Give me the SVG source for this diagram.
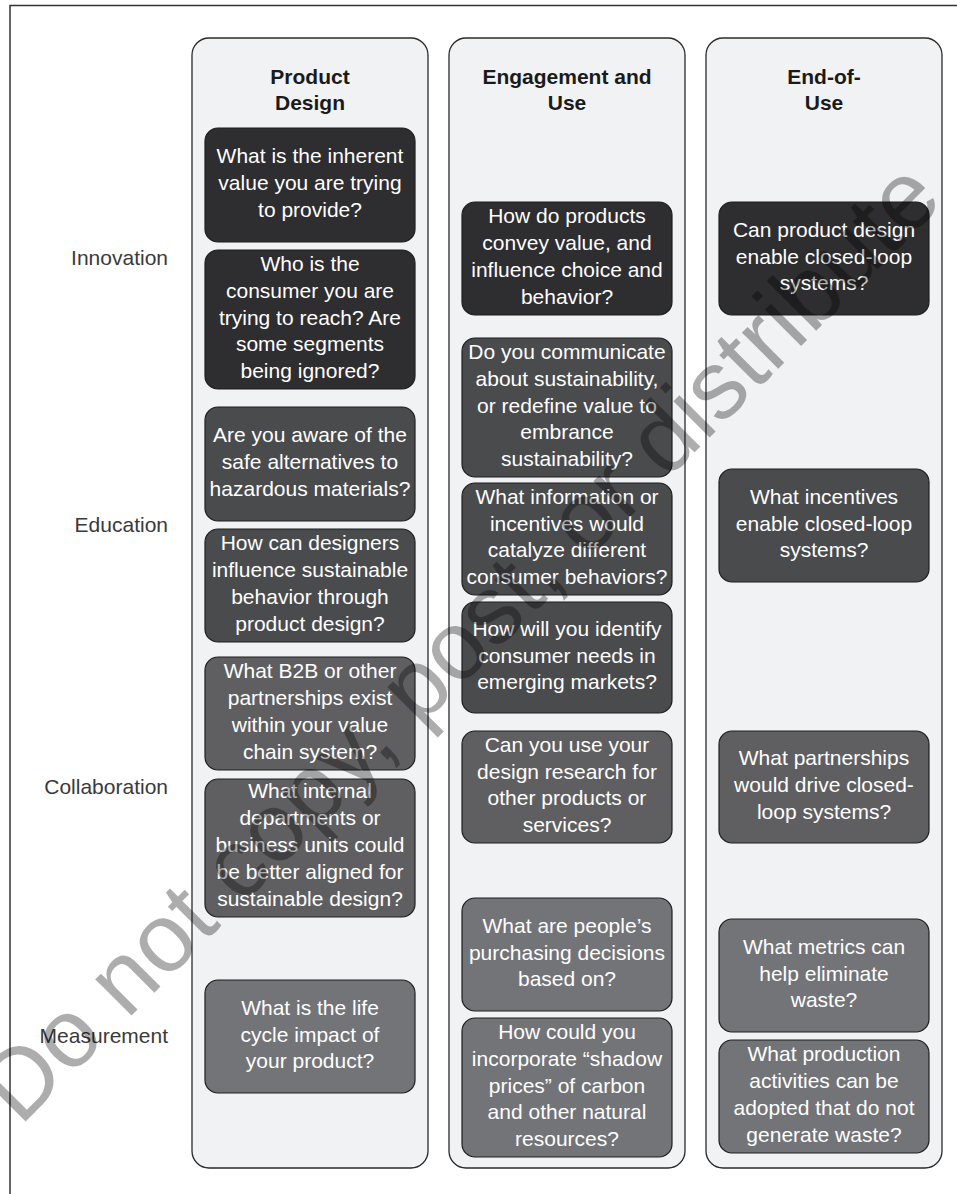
<svg xmlns="http://www.w3.org/2000/svg" width="957" height="1194" viewBox="0 0 957 1194">
<style>
text{font-family:"Liberation Sans",Arial,Helvetica,sans-serif;}
.col{fill:#f1f2f4;stroke:#2a2a2a;stroke-width:1.3;}
.box{stroke:#1e1e1e;stroke-width:1.2;}
.d1{fill:#2e2d2f;}
.d2{fill:#4a4b4d;}
.d3{fill:#5f5f61;}
.d4{fill:#737477;}
.hd{font-size:21px;font-weight:bold;fill:#1a1a1a;text-anchor:middle;}
.bt{font-size:21px;fill:#ffffff;text-anchor:middle;}
.rl{font-size:21px;fill:#3a3a3a;text-anchor:end;}
.wm{font-size:97px;fill:#000000;fill-opacity:0.32;}
</style>
<rect x="0" y="0" width="957" height="1194" fill="#ffffff"/>
<path d="M10,1194 V5.5 H957" fill="none" stroke="#333333" stroke-width="1.5"/>

<g id="row-labels">
<text class="rl" x="168" y="265">Innovation</text>
<text class="rl" x="168" y="532">Education</text>
<text class="rl" x="168" y="794">Collaboration</text>
<text class="rl" x="168" y="1043">Measurement</text>
</g>

<g id="col-product-design">
<rect class="col" x="192" y="38" width="236" height="1130" rx="17"/>
<text class="hd" x="310" y="84">Product<tspan x="310" y="110">Design</tspan></text>
</g>
<g id="col-engagement">
<rect class="col" x="449" y="38" width="236" height="1130" rx="17"/>
<text class="hd" x="567" y="84">Engagement and<tspan x="567" y="110">Use</tspan></text>
</g>
<g id="col-end-of-use">
<rect class="col" x="706" y="38" width="236" height="1130" rx="17"/>
<text class="hd" x="824" y="84">End-of-<tspan x="824" y="110">Use</tspan></text>
</g>

<g id="connectors"></g>

<g id="a1"><rect class="box d1" x="205" y="128" width="210" height="114" rx="13"/>
<text class="bt"><tspan x="310" y="163.2">What is the inherent</tspan><tspan x="310" y="190">value you are trying</tspan><tspan x="310" y="216.8">to provide?</tspan></text></g>
<g id="a2"><rect class="box d1" x="205" y="250" width="210" height="139" rx="13"/>
<text class="bt"><tspan x="310" y="270.9">Who is the</tspan><tspan x="310" y="297.7">consumer you are</tspan><tspan x="310" y="324.5">trying to reach? Are</tspan><tspan x="310" y="351.3">some segments</tspan><tspan x="310" y="378.1">being ignored?</tspan></text></g>
<g id="a3"><rect class="box d2" x="205" y="407" width="210" height="114" rx="13"/>
<text class="bt"><tspan x="310" y="442.2">Are you aware of the</tspan><tspan x="310" y="469">safe alternatives to</tspan><tspan x="310" y="495.8">hazardous materials?</tspan></text></g>
<g id="a4"><rect class="box d2" x="205" y="529" width="210" height="113" rx="13"/>
<text class="bt"><tspan x="310" y="550.3">How can designers</tspan><tspan x="310" y="577.1">influence sustainable</tspan><tspan x="310" y="603.9">behavior through</tspan><tspan x="310" y="630.7">product design?</tspan></text></g>
<g id="a5"><rect class="box d3" x="205" y="657" width="210" height="113" rx="13"/>
<text class="bt"><tspan x="310" y="678.3">What B2B or other</tspan><tspan x="310" y="705.1">partnerships exist</tspan><tspan x="310" y="731.9">within your value</tspan><tspan x="310" y="758.7">chain system?</tspan></text></g>
<g id="a6"><rect class="box d3" x="205" y="779" width="210" height="138" rx="13"/>
<text class="bt"><tspan x="310" y="798.4">What internal</tspan><tspan x="310" y="825.2">departments or</tspan><tspan x="310" y="852">business units could</tspan><tspan x="310" y="878.8">be better aligned for</tspan><tspan x="310" y="905.6">sustainable design?</tspan></text></g>
<g id="a7"><rect class="box d4" x="205" y="980" width="210" height="113" rx="13"/>
<text class="bt"><tspan x="310" y="1014.7">What is the life</tspan><tspan x="310" y="1041.5">cycle impact of</tspan><tspan x="310" y="1068.3">your product?</tspan></text></g>

<g id="b1"><rect class="box d1" x="462" y="202" width="210" height="113" rx="13"/>
<text class="bt"><tspan x="567" y="223.3">How do products</tspan><tspan x="567" y="250.1">convey value, and</tspan><tspan x="567" y="276.9">influence choice and</tspan><tspan x="567" y="303.7">behavior?</tspan></text></g>
<g id="b2"><rect class="box d2" x="462" y="338" width="210" height="139" rx="13"/>
<text class="bt"><tspan x="567" y="358.9">Do you communicate</tspan><tspan x="567" y="385.7">about sustainability,</tspan><tspan x="567" y="412.5">or redefine value to</tspan><tspan x="567" y="439.3">embrance</tspan><tspan x="567" y="466.1">sustainability?</tspan></text></g>
<g id="b3"><rect class="box d2" x="462" y="483" width="210" height="112" rx="13"/>
<text class="bt"><tspan x="567" y="503.8">What information or</tspan><tspan x="567" y="530.6">incentives would</tspan><tspan x="567" y="557.4">catalyze different</tspan><tspan x="567" y="584.2">consumer behaviors?</tspan></text></g>
<g id="b4"><rect class="box d2" x="462" y="602" width="210" height="111" rx="13"/>
<text class="bt"><tspan x="567" y="635.7">How will you identify</tspan><tspan x="567" y="662.5">consumer needs in</tspan><tspan x="567" y="689.3">emerging markets?</tspan></text></g>
<g id="b5"><rect class="box d3" x="462" y="731" width="210" height="112" rx="13"/>
<text class="bt"><tspan x="567" y="751.8">Can you use your</tspan><tspan x="567" y="778.6">design research for</tspan><tspan x="567" y="805.4">other products or</tspan><tspan x="567" y="832.2">services?</tspan></text></g>
<g id="b6"><rect class="box d4" x="462" y="898" width="210" height="113" rx="13"/>
<text class="bt"><tspan x="567" y="932.7">What are people’s</tspan><tspan x="567" y="959.5">purchasing decisions</tspan><tspan x="567" y="986.3">based on?</tspan></text></g>
<g id="b7"><rect class="box d4" x="462" y="1018" width="210" height="139" rx="13"/>
<text class="bt"><tspan x="567" y="1038.9">How could you</tspan><tspan x="567" y="1065.7">incorporate “shadow</tspan><tspan x="567" y="1092.5">prices” of carbon</tspan><tspan x="567" y="1119.3">and other natural</tspan><tspan x="567" y="1146.1">resources?</tspan></text></g>

<g id="c1"><rect class="box d1" x="719" y="202" width="210" height="113" rx="13"/>
<text class="bt"><tspan x="824" y="236.7">Can product design</tspan><tspan x="824" y="263.5">enable closed-loop</tspan><tspan x="824" y="290.3">systems?</tspan></text></g>
<g id="c2"><rect class="box d2" x="719" y="469" width="210" height="113" rx="13"/>
<text class="bt"><tspan x="824" y="503.7">What incentives</tspan><tspan x="824" y="530.5">enable closed-loop</tspan><tspan x="824" y="557.3">systems?</tspan></text></g>
<g id="c3"><rect class="box d3" x="719" y="731" width="210" height="112" rx="13"/>
<text class="bt"><tspan x="824" y="765.2">What partnerships</tspan><tspan x="824" y="792">would drive closed-</tspan><tspan x="824" y="818.8">loop systems?</tspan></text></g>
<g id="c4"><rect class="box d4" x="719" y="919" width="210" height="113" rx="13"/>
<text class="bt"><tspan x="824" y="953.7">What metrics can</tspan><tspan x="824" y="980.5">help eliminate</tspan><tspan x="824" y="1007.3">waste?</tspan></text></g>
<g id="c5"><rect class="box d4" x="719" y="1040" width="210" height="113" rx="13"/>
<text class="bt"><tspan x="824" y="1061.3">What production</tspan><tspan x="824" y="1088.1">activities can be</tspan><tspan x="824" y="1114.9">adopted that do not</tspan><tspan x="824" y="1141.7">generate waste?</tspan></text></g>

<g id="watermark">
<text class="wm" x="20" y="1127" transform="rotate(-45 20 1127)">Do not copy, post, or distribute</text>
</g>
</svg>
